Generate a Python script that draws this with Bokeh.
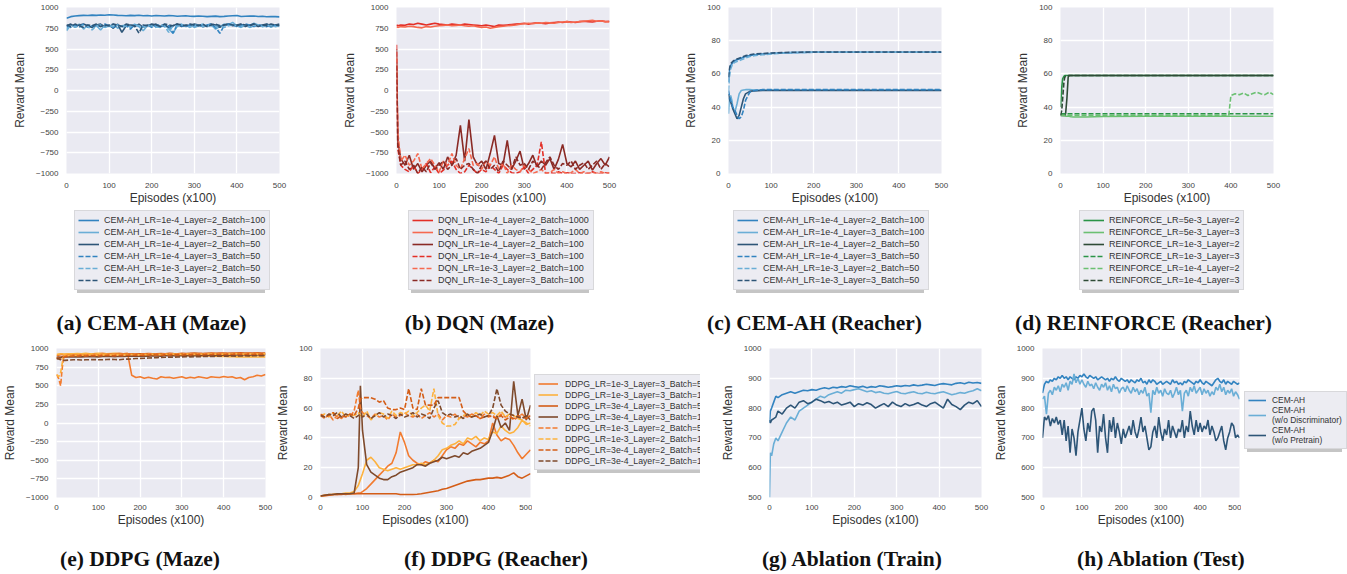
from bokeh.plotting import figure
from bokeh.models import Range1d, Legend, LegendItem, Label
from bokeh.layouts import column, row
from bokeh.embed import file_html
from bokeh.resources import INLINE

SANS = "Liberation Sans"
SERIF = "Liberation Serif"

X_TICKS = [0, 100, 200, 300, 400, 500]
Y_MAZE = [-1000, -750, -500, -250, 0, 250, 500, 750, 1000]
Y_REACH = [0, 20, 40, 60, 80, 100]
Y_ABL = [500, 600, 700, 800, 900, 1000]

BLUE_MID, BLUE_LIGHT, BLUE_DARK = "#3283c0", "#6aaed6", "#2d5577"
RED, SALMON, DARKRED = "#e32f27", "#f6694f", "#8a2a25"
GREEN, LGREEN, DGREEN = "#2a9447", "#6bc072", "#2e4b36"
OR1, OR2, OR3, OR4 = "#f27b2f", "#fdb23e", "#d45d17", "#7f4a2c"

CAPTIONS_TOP = ["(a) CEM-AH (Maze)", "(b) DQN (Maze)", "(c) CEM-AH (Reacher)", "(d) REINFORCE (Reacher)"]
CAPTIONS_BOTTOM = ["(e) DDPG (Maze)", "(f) DDPG (Reacher)", "(g) Ablation (Train)", "(h) Ablation (Test)"]

# ---------------- (a) CEM-AH (Maze)
x_a = list(range(0, 501, 10))
a_labels = ["CEM-AH_LR=1e-4_Layer=2_Batch=100", "CEM-AH_LR=1e-4_Layer=3_Batch=100",
            "CEM-AH_LR=1e-4_Layer=2_Batch=50", "CEM-AH_LR=1e-4_Layer=3_Batch=50",
            "CEM-AH_LR=1e-3_Layer=2_Batch=50", "CEM-AH_LR=1e-3_Layer=3_Batch=50"]
a_s1 = [870, 890, 897, 902, 905, 903, 908, 905, 910, 906, 913, 909, 905, 903, 900, 905, 902, 906, 900, 903,
        898, 903, 900, 897, 902, 900, 895, 898, 901, 895, 893, 897, 895, 890, 893, 896, 890, 893, 898, 901,
        904, 892, 894, 896, 898, 892, 895, 888, 892, 890, 887]
a_s2 = [720, 790, 760, 800, 740, 790, 760, 780, 730, 790, 770, 800, 750, 780, 790, 760, 800, 770, 720, 780,
        790, 770, 760, 800, 740, 690, 780, 800, 770, 790, 760, 780, 800, 770, 790, 740, 770, 800, 790, 820,
        780, 760, 790, 780, 810, 790, 770, 800, 760, 790, 780]
a_s3 = [780, 800, 770, 790, 800, 780, 760, 790, 800, 770, 790, 750, 800, 700, 780, 790, 770, 800, 760, 790,
        780, 800, 770, 790, 760, 780, 800, 770, 790, 780, 800, 790, 770, 780, 800, 790, 760, 790, 800, 780,
        790, 800, 770, 790, 800, 780, 790, 800, 780, 790, 800]
a_s4 = [770, 760, 790, 770, 800, 760, 780, 790, 770, 800, 780, 760, 790, 770, 780, 740, 790, 780, 770, 790,
        760, 780, 790, 770, 780, 690, 790, 780, 770, 790, 780, 790, 770, 790, 800, 760, 690, 780, 800, 790,
        770, 780, 800, 790, 770, 790, 780, 770, 790, 780, 790]
a_s5 = [740, 780, 770, 760, 790, 770, 730, 780, 790, 760, 780, 770, 790, 760, 780, 770, 790, 780, 760, 790,
        780, 760, 790, 780, 700, 780, 770, 790, 780, 760, 790, 780, 770, 790, 780, 770, 790, 760, 780, 790,
        780, 770, 790, 760, 780, 790, 770, 780, 790, 770, 780]
a_s6 = [790, 770, 800, 780, 760, 790, 780, 800, 770, 790, 780, 800, 790, 770, 800, 790, 780, 690, 790, 780,
        800, 790, 770, 800, 790, 780, 800, 790, 780, 800, 790, 780, 800, 770, 790, 800, 780, 790, 800, 790,
        780, 800, 790, 780, 800, 770, 790, 780, 800, 790, 780]

# ---------------- (b) DQN (Maze)
x_b = [0, 3] + list(range(10, 501, 10))
b_labels = ["DQN_LR=1e-4_Layer=2_Batch=1000", "DQN_LR=1e-4_Layer=3_Batch=1000",
            "DQN_LR=1e-4_Layer=2_Batch=100", "DQN_LR=1e-4_Layer=3_Batch=100",
            "DQN_LR=1e-3_Layer=2_Batch=100", "DQN_LR=1e-3_Layer=3_Batch=100"]
b_s1 = [790, 780, 790, 785, 800, 795, 810, 800, 790, 800, 810, 800, 795, 790, 800, 795, 790, 800, 795, 790,
        785, 780, 790, 780, 770, 790, 785, 790, 795, 800, 805, 810, 800, 810, 815, 810, 805, 815, 820, 825,
        820, 830, 825, 820, 830, 835, 830, 825, 835, 840, 830, 835]
b_s2 = [770, 760, 770, 765, 775, 770, 760, 755, 770, 765, 775, 780, 785, 790, 780, 785, 790, 780, 775, 780,
        770, 760, 765, 750, 760, 770, 775, 780, 785, 790, 800, 805, 810, 805, 815, 810, 820, 815, 810, 820,
        825, 830, 820, 825, 830, 835, 840, 845, 835, 840, 830, 825]
b_s3 = [500, -600, -820, -900, -780, -950, -880, -980, -900, -850, -940, -870, -950, -800, -900, -780, -420,
        -850, -350, -800, -900, -850, -950, -760, -540, -880, -900, -600, -950, -850, -730, -950, -880, -780,
        -920, -850, -900, -820, -950, -830, -650, -880, -920, -850, -950, -900, -850, -960, -880, -820, -900,
        -800]
b_s4 = [550, -700, -900, -950, -980, -900, -1000, -950, -880, -990, -920, -1000, -960, -900, -850, -950,
        -1000, -980, -900, -950, -1000, -950, -980, -900, -950, -1000, -900, -950, -990, -1000, -980, -920,
        -1000, -950, -900, -620, -1000, -990, -1000, -980, -1000, -990, -1000, -1000, -990, -1000, -1000,
        -980, -1000, -1000, -990, -1000]
b_s5 = [400, -500, -850, -780, -900, -850, -760, -950, -880, -820, -900, -980, -850, -900, -760, -900, -950,
        -820, -700, -900, -880, -950, -850, -900, -800, -950, -880, -1000, -900, -950, -980, -900, -950,
        -1000, -980, -950, -1000, -990, -950, -1000, -980, -1000, -990, -950, -1000, -980, -1000, -990,
        -1000, -980, -1000, -990]
b_s6 = [300, -650, -900, -850, -950, -900, -1000, -920, -980, -870, -950, -900, -850, -950, -900, -820, -950,
        -900, -880, -950, -1000, -900, -850, -950, -900, -980, -850, -900, -950, -800, -900, -880, -950,
        -850, -900, -950, -870, -800, -900, -950, -880, -900, -850, -950, -900, -870, -950, -900, -850,
        -950, -880, -920]

# ---------------- (c) CEM-AH (Reacher)
x_c = [0, 2, 5, 8, 10, 15, 20, 25, 30, 35, 40, 50, 60, 80, 100, 125, 150, 200, 300, 400, 500]
c_s1 = [55, 62, 65, 66, 67, 68, 68.5, 69, 69.5, 70, 70.5, 71, 71.5, 72, 72.3, 72.6, 72.8, 73, 73, 73, 73]
c_s2 = [36, 45, 47, 44, 40, 37, 42, 48, 50, 50.3, 50.5, 50.5, 50.3, 50.3, 50.3, 50.3, 50.3, 50.3, 50.3, 50.3, 50.3]
c_s3 = [48, 45, 43, 41, 39, 36, 33, 35, 40, 45, 48, 49.5, 49.8, 50, 50, 50, 50, 50, 50, 50, 50]
c_s4 = [50, 47, 44, 42, 40, 38, 35, 33, 34, 38, 44, 49, 50, 50.5, 50.5, 50.5, 50.5, 50.5, 50.5, 50.5, 50.5]
c_s5 = [50, 58, 63, 65, 66, 67, 67.5, 68, 68.5, 69, 69.5, 70.5, 71, 71.5, 72, 72.5, 72.8, 73, 73, 73, 73]
c_s6 = [58, 63, 66, 67, 67.5, 68.5, 69, 69.5, 70, 70.5, 71, 71.5, 72, 72.3, 72.6, 72.8, 73, 73.2, 73.2, 73.2, 73.2]

# ---------------- (d) REINFORCE (Reacher)
x_d = [0, 3, 5, 8, 10, 12, 15, 18, 20, 25, 30, 40, 60, 100, 200, 300, 390, 395, 400, 410, 420, 430, 440,
       450, 460, 470, 480, 490, 500]
d_labels = ["REINFORCE_LR=5e-3_Layer=2", "REINFORCE_LR=5e-3_Layer=3", "REINFORCE_LR=1e-3_Layer=2",
            "REINFORCE_LR=1e-3_Layer=3", "REINFORCE_LR=1e-4_Layer=2", "REINFORCE_LR=1e-4_Layer=3"]
d_s1 = [40, 52, 57, 58.5, 59, 59, 59, 59, 59, 59, 59, 59, 59, 59, 59, 59, 59, 59, 59, 59, 59, 59, 59, 59,
        59, 59, 59, 59, 59]
d_s2 = [36, 35.5, 35, 35, 35, 34.5, 34.5, 34.5, 34.5, 34.2, 34, 34, 34, 34.3, 34.5, 34.5, 34.5, 34.5, 34.5,
        34.5, 34.5, 34.5, 34.5, 34.5, 34.5, 34.5, 34.5, 34.5, 34.5]
d_s3 = [35, 35, 35, 35, 35, 36, 45, 58, 59, 59, 59, 59, 59, 59, 59, 59, 59, 59, 59, 59, 59, 59, 59, 59, 59,
        59, 59, 59, 59]
d_s4 = [36, 36, 36, 36, 36, 36, 36, 36, 36, 36, 36, 36, 36, 36, 36, 36, 36, 36, 36, 36, 36, 36, 36, 36, 36,
        36, 36, 36, 36]
d_s5 = [35, 35, 35, 35, 35, 35, 35, 35, 35, 35, 35, 35, 35, 35, 35, 35, 35, 35, 47, 48, 47.5, 48.5, 47, 48,
        49, 48, 47.5, 49, 47.5]
d_s6 = [35, 38, 45, 55, 58, 58.5, 58.5, 59, 59, 59, 59, 59, 59, 59, 59, 59, 59, 59, 59, 59, 59, 59, 59, 59,
        59, 59, 59, 59, 59]

# ---------------- (e) DDPG (Maze)
x_e = [0, 5, 10, 13, 16] + list(range(20, 501, 10))
e_s1 = [900, 910, 915, 920, 920, 920, 925, 920, 925, 930, 925, 930, 925, 930, 935, 930, 925, 930, 935, 930,
        935, 640, 610, 620, 600, 615, 600, 590, 620, 610, 615, 600, 610, 620, 600, 615, 605, 620, 610, 600,
        620, 615, 610, 625, 615, 620, 600, 610, 580, 610, 620, 640, 630, 650]
e_s2 = [920, 925, 930, 930, 925, 925, 930, 928, 932, 930, 935, 930, 932, 935, 930, 928, 932, 935, 930, 928,
        925, 922, 925, 920, 918, 922, 915, 918, 920, 915, 912, 915, 910, 912, 908, 905, 910, 905, 900, 902,
        898, 895, 892, 895, 890, 892, 888, 890, 885, 890, 888, 885, 890, 888]
e_s3 = [860, 870, 880, 890, 895, 900, 905, 910, 908, 912, 915, 912, 918, 915, 920, 918, 922, 920, 925, 922,
        925, 928, 925, 930, 928, 932, 930, 928, 932, 930, 935, 932, 930, 935, 932, 935, 938, 935, 932, 935,
        938, 935, 940, 938, 935, 940, 938, 942, 940, 938, 940, 942, 940, 938]
e_s4 = [880, 885, 882, 880, 885, 885, 888, 885, 890, 888, 890, 892, 890, 888, 892, 895, 892, 890, 895, 892,
        895, 898, 895, 898, 900, 898, 902, 900, 898, 902, 905, 902, 900, 905, 908, 905, 902, 905, 908, 910,
        908, 905, 910, 912, 910, 908, 912, 915, 912, 910, 912, 915, 918, 915]
e_s5 = [650, 600, 500, 700, 850, 900, 910, 905, 915, 910, 915, 920, 918, 915, 920, 922, 918, 920, 925, 922,
        920, 925, 922, 920, 925, 928, 925, 922, 925, 928, 930, 928, 925, 930, 928, 932, 930, 928, 932, 930,
        935, 932, 930, 935, 932, 930, 935, 932, 930, 935, 932, 935, 930, 932]
e_s6 = [650, 620, 680, 780, 880, 900, 905, 910, 908, 912, 910, 915, 912, 910, 915, 918, 915, 912, 918, 915,
        918, 920, 918, 915, 920, 918, 922, 920, 918, 922, 920, 925, 922, 920, 925, 922, 920, 925, 922, 925,
        928, 925, 922, 925, 928, 925, 930, 928, 925, 930, 928, 925, 930, 928]
e_s7 = [880, 870, 860, 870, 880, 890, 895, 900, 898, 902, 900, 905, 902, 900, 905, 908, 905, 902, 908, 905,
        910, 908, 912, 910, 908, 912, 915, 912, 910, 915, 912, 918, 915, 912, 918, 915, 920, 918, 915, 920,
        918, 922, 920, 918, 922, 920, 925, 922, 920, 925, 922, 920, 925, 922]
e_s8 = [870, 860, 850, 845, 840, 840, 845, 848, 850, 845, 848, 850, 852, 850, 848, 852, 855, 852, 850, 855,
        858, 860, 865, 868, 870, 872, 875, 878, 880, 882, 885, 884, 886, 888, 890, 888, 892, 890, 892, 895,
        893, 895, 898, 896, 898, 900, 898, 900, 902, 900, 902, 904, 902, 905]

# ---------------- (f) DDPG (Reacher)
x_f = list(range(0, 91, 10)) + [95] + list(range(100, 501, 10))
ddpg_labels = ["DDPG_LR=1e-3_Layer=3_Batch=50", "DDPG_LR=1e-3_Layer=3_Batch=100",
               "DDPG_LR=3e-4_Layer=3_Batch=50", "DDPG_LR=3e-4_Layer=3_Batch=100",
               "DDPG_LR=1e-3_Layer=2_Batch=50", "DDPG_LR=1e-3_Layer=2_Batch=100",
               "DDPG_LR=3e-4_Layer=2_Batch=50", "DDPG_LR=3e-4_Layer=2_Batch=100"]
f_s1 = [1, 1, 1.5, 2, 2, 2.5, 2, 2.5, 2.5, 3, 3,
        4, 6, 9, 12, 15, 18, 21, 23, 30, 44, 37, 28, 25, 23, 22, 24, 23, 25, 24, 28,
        32, 34, 33, 36, 35, 38, 36, 34, 37, 36, 38, 50, 42, 38, 40, 39, 35, 30, 26, 29, 32]
f_s2 = [1, 1.5, 2, 2, 2.5, 2.5, 3, 3, 4, 8, 12,
        16, 25, 27, 24, 20, 19, 18, 19, 20, 19, 20, 21, 22, 22, 23, 22, 23, 25, 28, 32,
        33, 35, 36, 38, 36, 40, 39, 41, 38, 40, 39, 44, 43, 48, 45, 43, 44, 47, 52, 49, 50]
f_s3 = [1, 1.5, 1.5, 2, 2, 2, 2.5, 2.5, 2.5, 2.5, 2.5,
        2.5, 2.5, 2.5, 2.5, 2.5, 2.5, 2.5, 2.5, 2.5, 2, 2, 2, 2, 2.2, 2.5, 3, 3.5, 4, 4.5, 5.5,
        6, 7, 8, 9, 10, 11, 11.5, 12, 12, 12.5, 13, 13, 13.5, 13, 14, 15, 16.5, 14, 13, 14.5, 16]
f_s4 = [1, 1.5, 2, 2, 2.5, 2.5, 2.5, 2.5, 3, 20, 75,
        45, 22, 17, 15, 13, 12, 12, 14, 15, 17, 18, 19, 20, 22, 22, 21, 23, 24, 25, 27,
        26, 27, 28, 27, 30, 29, 31, 32, 33, 35, 37, 45, 55, 47, 50, 45, 78, 55, 66, 52, 62]
f_s5 = [55, 53, 56, 52, 55, 53, 56, 54, 58, 72, 60,
        57, 55, 53, 56, 54, 55, 52, 56, 54, 55, 57, 55, 54, 56, 53, 55, 57, 54, 56, 52,
        55, 54, 56, 53, 55, 54, 56, 55, 53, 56, 54, 55, 53, 56, 54, 55, 52, 54, 56, 53, 55]
f_s6 = [55, 56, 54, 57, 55, 58, 54, 56, 55, 57, 55,
        54, 58, 52, 55, 57, 56, 53, 58, 55, 57, 56, 58, 55, 57, 60, 62, 58, 73, 55, 50,
        48, 48, 49, 53, 55, 56, 54, 57, 55, 58, 56, 57, 55, 58, 54, 56, 55, 53, 52, 50, 48]
f_s7 = [56, 54, 55, 57, 53, 55, 54, 56, 55, 60, 66,
        67, 67, 67, 66, 64, 65, 60, 59, 59, 60, 59, 73, 60, 59, 73, 62, 62, 62, 67, 67,
        67, 67, 67, 67, 58, 55, 54, 55, 53, 54, 55, 54, 53, 55, 52, 54, 53, 55, 54, 53, 55]
f_s8 = [55, 54, 56, 55, 57, 54, 56, 55, 53, 55, 56,
        54, 56, 53, 55, 57, 54, 56, 55, 53, 56, 54, 55, 57, 54, 56, 55, 53, 60, 65, 57,
        55, 56, 54, 55, 53, 56, 54, 55, 56, 54, 55, 60, 73, 62, 58, 56, 55, 54, 53, 55, 52]

# ---------------- (g) Ablation (Train)
x_g = [0, 2, 5, 10, 15, 20] + list(range(30, 501, 10))
abl_labels = ["CEM-AH", "CEM-AH\n(w/o Discriminator)", "CEM-AH\n(w/o Pretrain)"]
g_s1 = [750, 790, 800, 820, 840, 835, 845, 850, 855, 850, 855, 860, 858, 862, 860, 865, 868, 865, 870, 868,
        872, 870, 875, 872, 870, 873, 868, 872, 870, 875, 873, 870, 872, 875, 873, 876, 874, 878, 875, 877,
        880, 878, 876, 880, 882, 880, 878, 883, 885, 882, 887, 884, 886, 883]
g_s2 = [500, 650, 640, 680, 700, 690, 720, 750, 770, 760, 790, 800, 810, 820, 830, 840, 835, 845, 850, 855,
        850, 860, 858, 862, 865, 860, 855, 858, 852, 855, 850, 848, 852, 856, 850, 848, 852, 855, 850, 848,
        853, 850, 848, 852, 855, 850, 845, 848, 852, 850, 855, 858, 865, 858]
g_s3 = [760, 750, 760, 765, 770, 790, 780, 800, 810, 800, 820, 825, 815, 820, 830, 825, 818, 822, 815, 820,
        810, 815, 820, 805, 815, 810, 818, 812, 800, 808, 815, 805, 820, 810, 805, 815, 808, 812, 818, 810,
        805, 815, 820, 810, 800, 830, 812, 805, 795, 810, 820, 815, 825, 805]

# ---------------- (h) Ablation (Test)
x_h = list(range(0, 501, 5))
h_s1 = [850, 880, 890, 885, 895, 890, 900, 895, 905, 900, 910, 900, 905, 895, 905, 900, 895, 905, 900, 910,
        905, 915, 905, 900, 910, 905, 900, 905, 895, 900, 905, 900, 895, 900, 890, 900, 895, 905, 895, 890,
        900, 895, 890, 895, 885, 895, 890, 885, 895, 890, 900, 885, 890, 880, 895, 885, 895, 890, 880, 885,
        890, 880, 885, 890, 885, 880, 895, 885, 890, 880, 885, 878, 890, 885, 895, 890, 885, 880, 890, 885,
        895, 885, 880, 890, 885, 880, 875, 885, 895, 900, 890, 885, 895, 880, 890, 885, 880, 890, 885, 880,
        885]
h_s2 = [830, 840, 780, 850, 860, 845, 870, 860, 875, 855, 880, 870, 885, 860, 890, 880, 915, 885, 900, 880,
        895, 880, 870, 890, 875, 880, 865, 885, 870, 860, 880, 870, 885, 860, 875, 855, 880, 865, 870, 850,
        865, 870, 855, 875, 860, 850, 870, 855, 865, 845, 860, 850, 870, 840, 850, 785, 860, 845, 870, 850,
        860, 840, 865, 850, 845, 860, 835, 850, 870, 845, 860, 790, 850, 860, 840, 870, 855, 875, 850, 860,
        870, 845, 865, 850, 860, 840, 855, 845, 870, 860, 880, 855, 870, 845, 860, 850, 865, 840, 855, 845,
        830]
h_s3 = [700, 770, 760, 775, 740, 765, 750, 770, 745, 760, 710, 760, 690, 740, 650, 730, 700, 640, 720, 760,
        800, 730, 690, 750, 720, 790, 800, 760, 650, 740, 720, 780, 700, 650, 760, 720, 770, 700, 750, 720,
        680, 730, 700, 720, 740, 710, 760, 720, 700, 730, 770, 720, 740, 700, 660, 670, 720, 740, 700, 770,
        720, 690, 730, 710, 760, 700, 740, 720, 700, 730, 720, 760, 700, 740, 720, 790, 740, 710, 760, 720,
        750, 720, 740, 730, 760, 710, 740, 720, 690, 700, 720, 740, 690, 660, 700, 720, 750, 740, 700, 710,
        700]

SOLID, DASH = "solid", "5 2"
LW = 1.6
NAN = float("nan")


def check(name, xs, ys):
    if len(xs) != len(ys):
        raise ValueError(f"{name}: {len(xs)} x vs {len(ys)} y")


def panel(yr, yticks, bl, fw, br, bt, fh, bb, xstand, neg=False):
    p = figure(title=None, frame_width=fw, frame_height=fh,
               min_border_left=bl, min_border_right=br, min_border_top=bt, min_border_bottom=bb,
               x_range=Range1d(0, 500), y_range=Range1d(*yr),
               output_backend="svg", toolbar_location=None)
    p.background_fill_color = "#EAEAF2"
    p.border_fill_color = "white"
    p.outline_line_color = None
    p.grid.grid_line_color = "white"
    p.grid.grid_line_width = 1.3
    p.axis.axis_line_color = None
    p.axis.major_tick_line_color = None
    p.axis.minor_tick_line_color = None
    p.axis.major_tick_out = 0
    p.axis.major_tick_in = 0
    p.axis.minor_tick_out = 0
    p.axis.major_label_text_font = SANS
    p.axis.major_label_text_font_size = "8px"
    p.axis.major_label_text_color = "#444444"
    p.axis.axis_label_text_font = SANS
    p.axis.axis_label_text_font_size = "12px"
    p.axis.axis_label_text_font_style = "normal"
    p.axis.axis_label_text_color = "#333333"
    p.xaxis.ticker = X_TICKS
    p.yaxis.ticker = yticks
    p.xaxis.axis_label = "Episodes (x100)"
    p.yaxis.axis_label = "Reward Mean"
    p.xaxis.major_label_standoff = xstand
    p.yaxis.major_label_standoff = 8
    p.xaxis.axis_label_standoff = 0
    p.yaxis.axis_label_standoff = 6
    if neg:
        p.yaxis.major_label_overrides = {v: ("\u2212" + str(-v)) for v in yticks if v < 0}
    return p


def add_lines(p, name, xs, series, colors, dashes):
    for i, (ys, c, d) in enumerate(zip(series, colors, dashes)):
        check(f"{name}{i+1}", xs, ys)
        p.line(xs, ys, line_color=c, line_width=LW, line_dash=d)


def strip(width, height, y_top, bt=0, bb=0):
    # blank figure used only to hold legends / captions
    s = figure(title=None, width=width, height=height, x_range=Range1d(0, width),
               y_range=Range1d(y_top + height - bb, y_top + bt),
               min_border_left=0, min_border_right=0, min_border_top=bt, min_border_bottom=bb,
               x_axis_location=None, y_axis_location=None,
               output_backend="svg", toolbar_location=None)
    s.grid.visible = False
    s.outline_line_color = None
    s.background_fill_color = "white"
    s.border_fill_color = "white"
    return s


def blank(text):
    return "".join("\n" if ch == "\n" else " " for ch in text)


def legend_in(s, labels, colors, dashes, loc, size, gw, gh, standoff, lw):
    common = dict(label_text_font=SANS, label_text_font_size=size, glyph_width=gw, glyph_height=gh,
                  label_height=gh, label_width=lw, label_standoff=standoff, padding=3, spacing=0, margin=0)
    # drop shadow: same-size box with blank labels, offset down-right
    sh_items = []
    for lab in labels:
        r = s.line([NAN], [NAN], line_alpha=0)
        sh_items.append(LegendItem(label=blank(lab), renderers=[r]))
    s.add_layout(Legend(items=sh_items, location=(loc[0] + 3, loc[1] - 3), label_text_alpha=0,
                        background_fill_color="#8c8c8c", background_fill_alpha=0.5,
                        border_line_color=None, **common))
    items = []
    for lab, c, d in zip(labels, colors, dashes):
        r = s.line([NAN], [NAN], line_color=c, line_width=LW, line_dash=d)
        items.append(LegendItem(label=lab, renderers=[r]))
    s.add_layout(Legend(items=items, location=loc, label_text_color="#333333",
                        background_fill_color="#ECECF2", background_fill_alpha=1.0,
                        border_line_color="#c4c4c4", border_line_width=1, **common))


def captions(s, texts, centers, ymid):
    for t, cx in zip(texts, centers):
        s.add_layout(Label(x=cx, y=ymid, text=t, text_align="center", text_baseline="middle",
                           text_font=SERIF, text_font_style="bold", text_font_size="21.5px",
                           text_color="#111111"))


blues = [BLUE_MID, BLUE_LIGHT, BLUE_DARK] * 2
reds = [RED, SALMON, DARKRED] * 2
greens = [GREEN, LGREEN, DGREEN] * 2
oranges = [OR1, OR2, OR3, OR4] * 2
d6 = [SOLID] * 3 + [DASH] * 3
d8 = [SOLID] * 4 + [DASH] * 4

# Row 1 plots (page y 0..210)
pa = panel((-1000, 1000), Y_MAZE, 66, 213, 61, 7, 166, 37, 9, neg=True)
add_lines(pa, "a", x_a, [a_s1, a_s2, a_s3, a_s4, a_s5, a_s6], blues, d6)
pb = panel((-1000, 1000), Y_MAZE, 55, 213, 72, 7, 166, 37, 9, neg=True)
add_lines(pb, "b", x_b, [b_s1, b_s2, b_s3, b_s4, b_s5, b_s6], reds, d6)
pc = panel((0, 100), Y_REACH, 45, 213, 72, 7, 166, 37, 9)
add_lines(pc, "c", x_c, [c_s1, c_s2, c_s3, c_s4, c_s5, c_s6], blues, d6)
pd = panel((0, 100), Y_REACH, 45, 213, 79, 7, 166, 37, 9)
add_lines(pd, "d", x_d, [d_s1, d_s2, d_s3, d_s4, d_s5, d_s6], greens, d6)

# Row 1 legends + captions (page y 210..340)
s1 = strip(1347, 130, 210)
legend_in(s1, a_labels, blues, d6, (74, 50), "9px", 21, 12, 5, 162)
legend_in(s1, b_labels, reds, d6, (408, 50), "9px", 21, 12, 5, 152)
legend_in(s1, a_labels, blues, d6, (733, 50), "9px", 21, 12, 5, 162)
legend_in(s1, d_labels, greens, d6, (1079, 50), "9px", 21, 12, 5, 131)
captions(s1, CAPTIONS_TOP, [151, 479, 814, 1143], 322)

# Row 2 (page y 340..540), frames at y 348..497
pe = panel((-1000, 1000), Y_MAZE, 55, 209, 8, 8, 149, 43, 7, neg=True)
add_lines(pe, "e", x_e, [e_s1, e_s2, e_s3, e_s4, e_s5, e_s6, e_s7, e_s8], oranges, d8)

pf = panel((0, 100), Y_REACH, 43, 210, 2, 8, 149, 43, 7)
add_lines(pf, "f", x_f, [f_s1, f_s2, f_s3, f_s4, f_s5, f_s6, f_s7, f_s8], oranges, d8)
lf = strip(168, 200, 340, bt=8, bb=43)
legend_in(lf, ddpg_labels, oranges, d8, (2, 27), "8.7px", 20, 11, 7, 148)

pg = panel((500, 1000), Y_ABL, 69, 212, 9, 8, 149, 43, 7)
add_lines(pg, "g", x_g, [g_s1, g_s2, g_s3], [BLUE_MID, BLUE_LIGHT, BLUE_DARK], [SOLID] * 3)

ph = panel((500, 1000), Y_ABL, 45, 197, 2, 8, 149, 43, 7)
add_lines(ph, "h", x_h, [h_s1, h_s2, h_s3], [BLUE_MID, BLUE_LIGHT, BLUE_DARK], [SOLID] * 3)
lh = strip(118, 200, 340, bt=8, bb=43)
legend_in(lh, abl_labels, [BLUE_MID, BLUE_LIGHT, BLUE_DARK], [SOLID] * 3, (3, 48), "8.4px", 18, 10, 6, 71)

# Row 2 captions (page y 540..574)
s2 = strip(1347, 34, 540)
captions(s2, CAPTIONS_BOTTOM, [139.5, 495.5, 852, 1161], 558)

layout = column(row(pa, pb, pc, pd), s1, row(pe, pf, lf, pg, ph, lh), s2)

open("out.html", "w").write(file_html(layout, INLINE, title="chart"))
